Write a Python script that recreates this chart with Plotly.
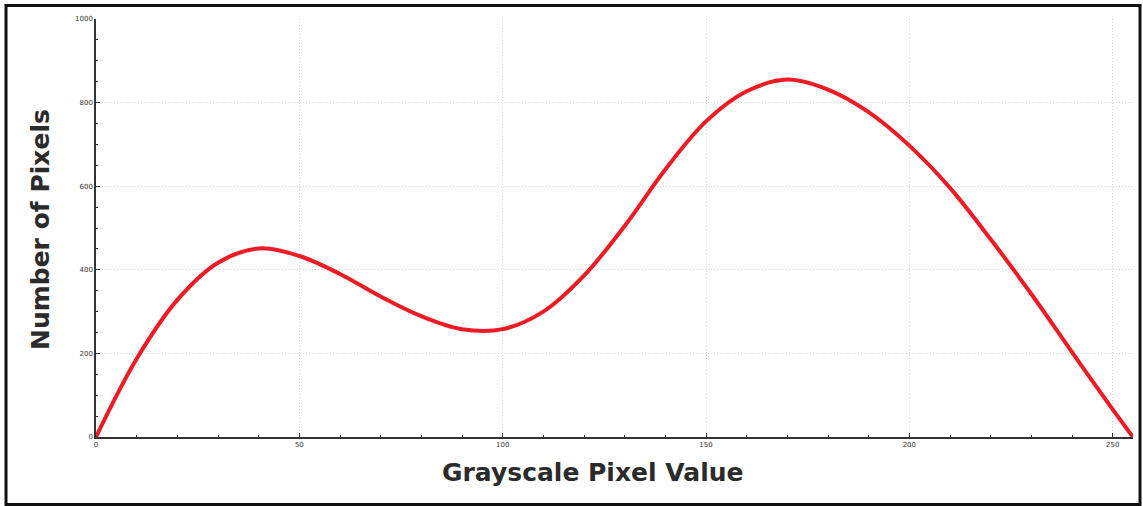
import plotly.graph_objects as go

# Data
gray_values = [0, 10, 20, 30, 40, 50, 60, 70, 80, 90, 100, 110, 120, 130, 140, 150, 160, 170, 180, 190, 200, 210, 220, 230, 240, 250, 255]
pixel_counts = [0, 187, 328, 417, 451, 433, 390, 336, 289, 258, 258, 300, 386, 505, 640, 755, 827, 855, 831, 777, 697, 596, 473, 342, 203, 66, 0]

x_ticks = [0, 50, 100, 150, 200, 250]
y_ticks = [0, 200, 400, 600, 800, 1000]

W, H = 1143, 506
L, R, T, B = 96, 10, 19, 69
pw, ph = W - L - R, H - T - B

def px_x(p):
    return (p - L) / pw

def px_y(p):
    return (H - B - p) / ph

fig = go.Figure()
fig.add_trace(go.Scatter(
    x=gray_values, y=pixel_counts, mode="lines",
    line=dict(color="#ED1C24", width=4, shape="spline", smoothing=1.0),
    hoverinfo="x+y", showlegend=False,
))

axis_common = dict(
    showline=True, linecolor="#333333", linewidth=1.5,
    ticks="inside", ticklen=4, tickcolor="#333333", tickwidth=1,
    showgrid=True, gridcolor="#d6d6d6", griddash="1px,2px", gridwidth=1,
    zeroline=False,
    tickfont=dict(family="DejaVu Sans", size=7, color="#333333"),
)

fig.update_xaxes(
    range=[0, 255], tickvals=x_ticks, ticktext=[str(v) for v in x_ticks],
    minor=dict(dtick=10, tick0=0, ticks="inside", ticklen=2, tickcolor="#333333", showgrid=False),
    **axis_common,
)
fig.update_yaxes(
    range=[0, 1000], tickvals=y_ticks, ticktext=[str(v) for v in y_ticks],
    minor=dict(dtick=50, tick0=0, ticks="inside", ticklen=2, tickcolor="#333333", showgrid=False),
    **axis_common,
)

title_font = dict(family="DejaVu Sans", size=25, color="#2b2b2b")

fig.add_annotation(
    text="<b>Grayscale Pixel Value</b>", xref="paper", yref="paper",
    x=px_x(592), y=px_y(472), xanchor="center", yanchor="middle",
    showarrow=False, font=title_font,
)
fig.add_annotation(
    text="<b>Number of Pixels</b>", xref="paper", yref="paper",
    x=px_x(40), y=px_y(230), xanchor="center", yanchor="middle",
    textangle=-90, showarrow=False, font=title_font,
)

# outer black frame
fig.add_shape(
    type="rect", xref="paper", yref="paper",
    x0=px_x(6), x1=px_x(1140), y0=px_y(504.5), y1=px_y(5.5),
    line=dict(color="#111111", width=3), layer="above",
)

fig.update_layout(
    width=W, height=H,
    margin=dict(l=L, r=R, t=T, b=B),
    paper_bgcolor="white", plot_bgcolor="white",
    showlegend=False,
)

fig.write_html(
    "out.html",
    config={"displayModeBar": False},
    post_script="document.body.style.margin='0';document.body.style.overflow='hidden';",
)
